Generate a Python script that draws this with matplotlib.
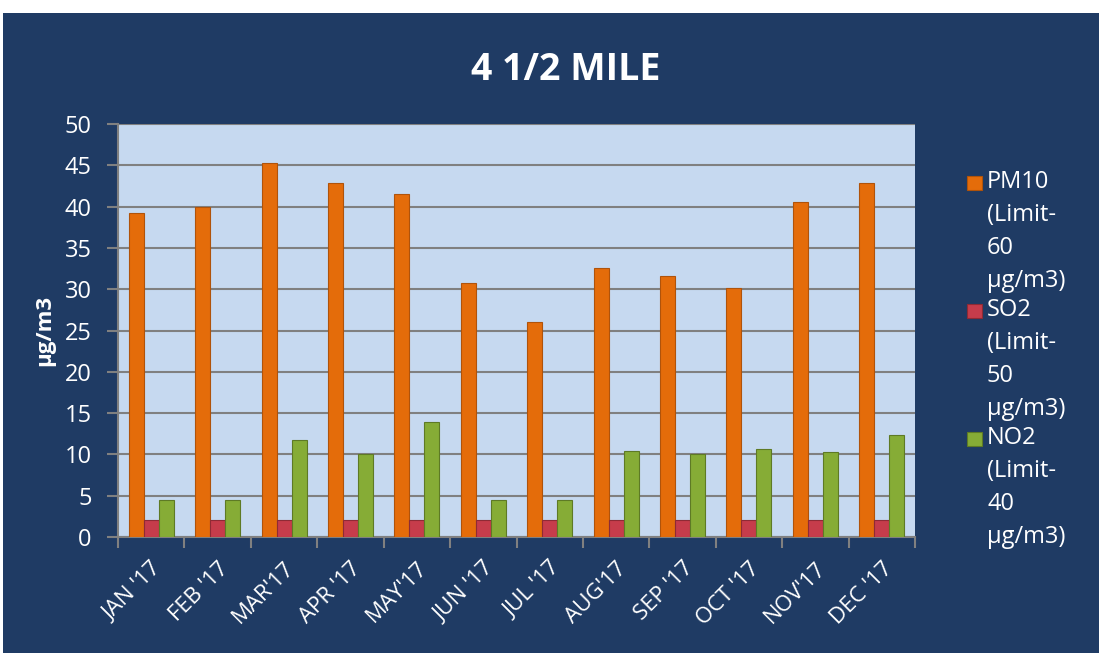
import matplotlib.pyplot as plt
from matplotlib.patches import Rectangle
import numpy as np

months = ["JAN '17", "FEB '17", "MAR'17", "APR '17", "MAY'17", "JUN '17",
          "JUL '17", "AUG'17", "SEP '17", "OCT '17", "NOV'17", "DEC '17"]
pm10 = [39.2, 40.0, 45.3, 42.8, 41.5, 30.7, 26.0, 32.6, 31.6, 30.1, 40.5, 42.8]
so2 = [2, 2, 2, 2, 2, 2, 2, 2, 2, 2, 2, 2]
no2 = [4.5, 4.5, 11.7, 10.0, 13.9, 4.5, 4.5, 10.4, 10.0, 10.6, 10.3, 12.4]
labels = ['PM10\n(Limit-\n60\nµg/m3)', 'SO2\n(Limit-\n50\nµg/m3)', 'NO2\n(Limit-\n40\nµg/m3)']
colors = ['#E46C0A', '#C63C4B', '#86AC36']
edges = ['#B0530A', '#8E2A35', '#5E7A25']

plt.rcParams['font.family'] = ['Open Sans', 'DejaVu Sans']

W, H = 1099, 653
fig = plt.figure(figsize=(W / 100, H / 100), dpi=100)
fig.patch.set_facecolor('white')
# dark blue chart panel, drawn behind the axes
fig.patches.append(Rectangle((3 / W, 0), 1, 1 - 13 / H, transform=fig.transFigure,
                             facecolor='#1F3B64', edgecolor='none', zorder=-5))

ax = fig.add_axes([118 / W, 1 - 537 / H, 797 / W, 413 / H])
ax.set_facecolor('#C6D9F0')

x = np.arange(len(months))
w = 0.226
for k, vals in enumerate([pm10, so2, no2]):
    ax.bar(x + (k - 1) * w, vals, w, color=colors[k], edgecolor=edges[k],
           linewidth=0.8, zorder=3)

ax.set_xlim(-0.5, 11.5)
ax.set_ylim(0, 50)
ax.set_yticks(range(0, 51, 5))
ax.yaxis.grid(True, color='#808080', linewidth=1.5, zorder=1)
ax.set_axisbelow(True)

ax.set_xticks(np.arange(-0.5, 12, 1))
ax.set_xticklabels([])
ax.set_xticks(x, minor=True)
ax.set_xticklabels(months, minor=True, rotation=45, ha='right', rotation_mode='anchor',
                   color='white', fontsize=16)
ax.tick_params(axis='x', which='minor', length=0, pad=15)
ax.tick_params(axis='x', which='major', length=8, width=1.5, color='#808080')
ax.tick_params(axis='y', length=8, width=1.5, color='#808080', labelcolor='white',
               labelsize=17, pad=11)

for s in ['top', 'right']:
    ax.spines[s].set_visible(False)
for s in ['left', 'bottom']:
    ax.spines[s].set_color('#808080')
    ax.spines[s].set_linewidth(1.5)

ax.set_ylabel('µg/m3', color='white', fontsize=16, fontweight='bold', labelpad=7)
fig.text(0.515, 1 - 70 / H, '4 1/2 MILE', color='white', fontsize=27, fontweight='bold',
         ha='center', va='center')

# legend: square marker aligned with the first line of each wrapped label
for k, lab in enumerate(labels):
    yc = 183 + k * 128
    fig.patches.append(Rectangle((967 / W, 1 - (yc + 7) / H), 15 / W, 14 / H,
                                 transform=fig.transFigure, facecolor=colors[k],
                                 edgecolor=edges[k], linewidth=0.8))
    fig.text(987 / W, 1 - (yc - 13) / H, lab, color='white', fontsize=17,
             ha='left', va='top', linespacing=1.5)

fig.savefig('out.png', dpi=100)
